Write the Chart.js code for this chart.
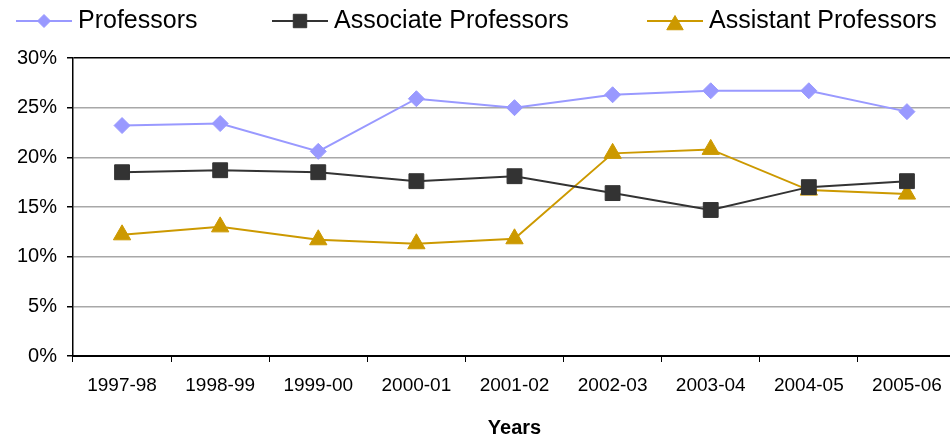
<!DOCTYPE html>
<html>
<head>
<meta charset="utf-8">
<script src="https://cdn.jsdelivr.net/npm/chart.js@4.4.1/dist/chart.umd.min.js"></script>
<style>
  html, body { margin: 0; padding: 0; background: #fff; overflow: hidden; }
  /* vung ve rong hon cua so mot chut: truc x bi cat o mep phai nhu ban goc */
  #wrap { width: 956px; height: 440px; position: relative; }
</style>
</head>
<body>
<div id="wrap"><canvas id="doThi"></canvas></div>
<script>
var years = ['1997-98', '1998-99', '1999-00', '2000-01', '2001-02', '2002-03', '2003-04', '2004-05', '2005-06'];
var professors = [23.2, 23.4, 20.6, 25.9, 25.0, 26.3, 26.7, 26.7, 24.6];
var associateProfessors = [18.5, 18.7, 18.5, 17.6, 18.1, 16.4, 14.7, 17.0, 17.6];
var assistantProfessors = [12.2, 13.0, 11.7, 11.3, 11.8, 20.4, 20.8, 16.7, 16.3];
var yTicks = [0, 5, 10, 15, 20, 25, 30];

var FONT = "'Liberation Sans', Arial, sans-serif";

// legend tu ve: duong + ky hieu + chu
var legendStart = [16, 272, 647];
var legendPlugin = {
    id: 'legendTuVe',
    afterDraw: function (chart) {
        var ctx = chart.ctx;
        var y = 21;
        chart.data.datasets.forEach(function (ds, i) {
            var x0 = legendStart[i];
            ctx.save();
            ctx.strokeStyle = ds.borderColor;
            ctx.lineWidth = 2;
            ctx.beginPath();
            ctx.moveTo(x0, y);
            ctx.lineTo(x0 + 56, y);
            ctx.stroke();
            ctx.fillStyle = ds.pointBackgroundColor;
            ctx.strokeStyle = ds.pointBorderColor;
            ctx.lineWidth = 1;
            var dy = ds.pointStyle === 'triangle' ? 4 : 0;
            Chart.helpers.drawPoint(ctx, {
                pointStyle: ds.pointStyle,
                rotation: 0,
                borderWidth: 1,
                radius: ds.legendRadius
            }, x0 + 28, y + dy);
            ctx.fillStyle = '#000';
            ctx.font = '25px ' + FONT;
            ctx.textBaseline = 'middle';
            ctx.fillText(ds.label, x0 + 62, y);
            ctx.restore();
        });
    }
};

var ctx = document.getElementById('doThi').getContext('2d');
var myChart = new Chart(ctx, {
    type: 'line',
    data: {
        labels: years,
        datasets: [{
            label: 'Professors',
            data: professors,
            borderColor: '#9999FF',
            backgroundColor: '#9999FF',
            pointBackgroundColor: '#9999FF',
            pointBorderColor: '#9999FF',
            pointStyle: 'rectRot',
            pointRadius: 8,
            pointBorderWidth: 1,
            borderWidth: 2,
            legendRadius: 6.5
        }, {
            label: 'Associate Professors',
            data: associateProfessors,
            borderColor: '#333333',
            backgroundColor: '#333333',
            pointBackgroundColor: '#333333',
            pointBorderColor: '#333333',
            pointStyle: 'rect',
            pointRadius: 10.5,
            pointBorderWidth: 1,
            borderWidth: 2,
            legendRadius: 9.5
        }, {
            label: 'Assistant Professors',
            data: assistantProfessors,
            borderColor: '#CC9900',
            backgroundColor: '#CC9900',
            pointBackgroundColor: '#CC9900',
            pointBorderColor: '#CC9900',
            pointStyle: 'triangle',
            pointRadius: 10,
            pointBorderWidth: 1,
            borderWidth: 2,
            legendRadius: 9.5
        }]
    },
    options: {
        responsive: true,
        maintainAspectRatio: false,
        animation: false,
        layout: { autoPadding: false, padding: { top: 58, right: 0, left: 0, bottom: 0 } },
        plugins: {
            legend: { display: false },
            tooltip: { enabled: false }
        },
        scales: {
            x: {
                offset: true,
                grid: {
                    offset: true,
                    drawOnChartArea: false,
                    drawTicks: true,
                    tickLength: 6,
                    color: '#000'
                },
                border: { color: '#000', width: 2 },
                ticks: {
                    color: '#000',
                    font: { family: FONT, size: 19 },
                    padding: 12,
                    maxRotation: 0,
                    autoSkip: false
                },
                title: {
                    display: true,
                    text: 'Years',
                    color: '#000',
                    font: { family: FONT, size: 20, weight: 'bold' },
                    padding: { top: 14, bottom: 0 }
                },
                afterFit: function (scale) { scale.height = 84; }
            },
            y: {
                min: 0,
                max: 30,
                afterBuildTicks: function (scale) {
                    scale.ticks = yTicks.map(function (v) { return { value: v }; });
                },
                grid: {
                    color: function (c) { return c.tick && c.tick.value === 30 ? '#000' : '#A8A8A8'; },
                    lineWidth: 1.5,
                    tickColor: '#000',
                    tickLength: 6
                },
                border: { color: '#000', width: 1.5 },
                ticks: {
                    color: '#000',
                    font: { family: FONT, size: 20 },
                    padding: 10,
                    callback: function (value) { return value + '%'; }
                },
                afterFit: function (scale) { scale.width = 73; }
            }
        }
    },
    plugins: [legendPlugin]
});
</script>
</body>
</html>
